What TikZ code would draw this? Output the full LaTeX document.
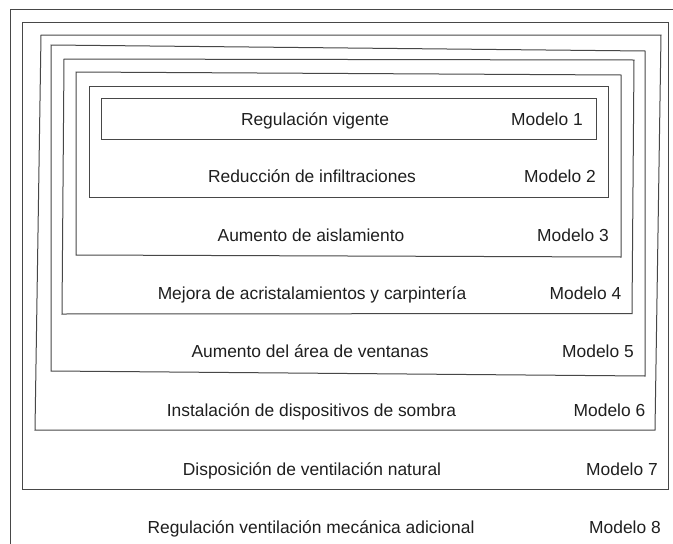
\documentclass[tikz,border=0pt]{standalone}
\usepackage{fontspec}
\setmainfont{Liberation Sans}
\begin{document}
\begin{tikzpicture}[x=1pt,y=-1pt,
  frame/.style={draw=black!72,line width=1pt,line join=miter},
  lbl/.style={anchor=base,inner sep=0pt,text=black!88,font=\fontsize{17.4}{20}\selectfont},
  mdl/.style={anchor=base east,inner sep=0pt,text=black!88,font=\fontsize{17.4}{20}\selectfont}]
\useasboundingbox (0,0) rectangle (673,544);
\fill[white] (0,0) rectangle (673,544);
\clip (0,0) rectangle (673,544);
% Modelo 8 (open frame)
\draw[frame] (10,9.5) -- (680,9.5);
\draw[frame] (10,9.5) -- (10,550);
% Modelo 7
\draw[frame] (22.5,22) -- (668,22) -- (668,489) -- (22.5,489) -- cycle;
% Modelo 6
\draw[frame] (41,35) -- (661,35) -- (655,430) -- (35,430) -- cycle;
% Modelo 5
\draw[frame] (51,45) -- (645,51) -- (645,376) -- (51,371) -- cycle;
% Modelo 4
\draw[frame] (64,59) -- (634,60) -- (632,313.5) -- (62,314) -- cycle;
% Modelo 3
\draw[frame] (76,72) -- (621,75) -- (621,257) -- (76,255) -- cycle;
% Modelo 2
\draw[frame] (89,86) -- (608,86) -- (608,197) -- (89,197) -- cycle;
% Modelo 1
\draw[frame] (101,98) -- (596,98) -- (596,139) -- (101,139) -- cycle;
% texts
\node[lbl] (t1) at (315,125) {Regulación vigente};
\node[mdl] (m1) at (583,125) {Modelo 1};
\node[lbl] (t2) at (312,182) {Reducción de infiltraciones};
\node[mdl] (m2) at (596,182) {Modelo 2};
\node[lbl] (t3) at (311,241) {Aumento de aislamiento};
\node[mdl] (m3) at (609,241) {Modelo 3};
\node[lbl] (t4) at (312,299) {Mejora de acristalamientos y carpintería};
\node[mdl] (m4) at (621.5,299) {Modelo 4};
\node[lbl] (t5) at (310,357) {Aumento del área de ventanas};
\node[mdl] (m5) at (634,357) {Modelo 5};
\node[lbl] (t6) at (311.5,416) {Instalación de dispositivos de sombra};
\node[mdl] (m6) at (645.5,416) {Modelo 6};
\node[lbl] (t7) at (312,475) {Disposición de ventilación natural};
\node[mdl] (m7) at (658,475) {Modelo 7};
\node[lbl] (t8) at (311,533) {Regulación ventilación mecánica adicional};
\node[mdl] (m8) at (661,533) {Modelo 8};
\end{tikzpicture}
\end{document}
